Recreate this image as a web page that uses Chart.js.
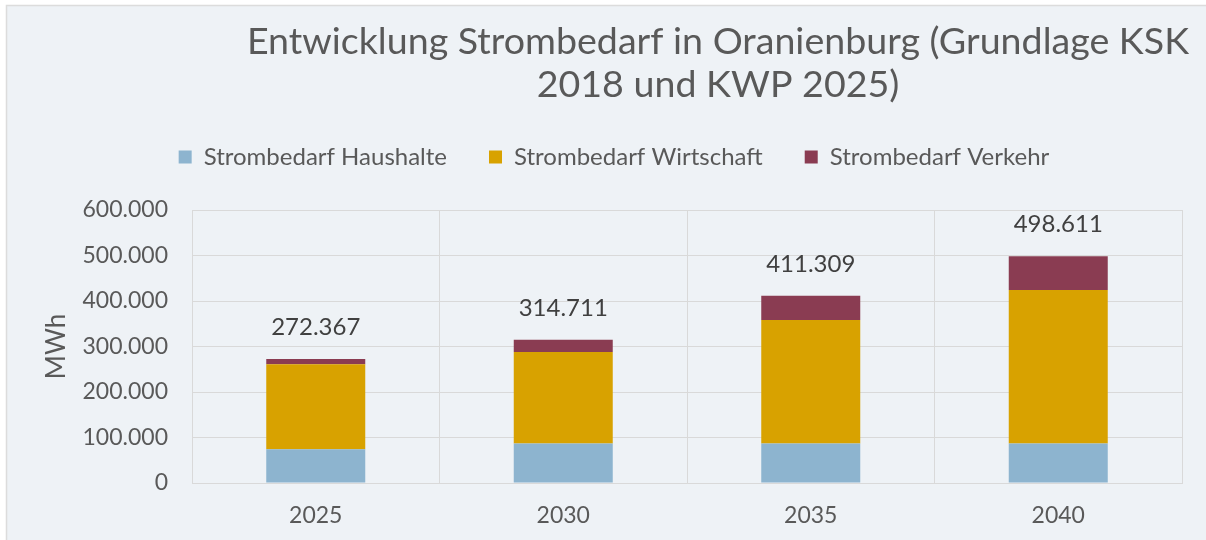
<!DOCTYPE html>
<html lang="de">
<head>
<meta charset="UTF-8">
<title>Entwicklung Strombedarf in Oranienburg</title>
<script src="https://cdn.jsdelivr.net/npm/chart.js"></script>
<style>
  body { margin: 0; background: #fff; }
  canvas { display: block; }
</style>
</head>
<body>
<canvas id="stromChart" width="1206" height="540"></canvas>
<script>
  // Werte (MWh)
  const years = ['2025', '2030', '2035', '2040'];
  const haushalte = [74000, 87000, 87000, 87000];
  const wirtschaft = [187000, 201000, 271000, 337000];
  const verkehr = [11367, 26711, 53309, 74611];
  const totals = [272367, 314711, 411309, 498611];
  const yTicks = [0, 100000, 200000, 300000, 400000, 500000, 600000];
  const seriesNames = ['Strombedarf Haushalte', 'Strombedarf Wirtschaft', 'Strombedarf Verkehr'];
  const titleLines = ['Entwicklung Strombedarf in Oranienburg (Grundlage KSK', '2018 und KWP 2025)'];

  const textColor = '#595959';
  const gridColor = '#d9d9d9';
  const fontName = 'Lato';

  // 272367 -> "272.367"
  function fmt(v) {
    return String(v).replace(/\B(?=(\d{3})+(?!\d))/g, '.');
  }

  // background + frame
  const framePlugin = {
    id: 'frame',
    beforeDraw(chart) {
      const ctx = chart.ctx;
      ctx.save();
      ctx.fillStyle = '#ffffff';
      ctx.fillRect(0, 0, chart.width, chart.height);
      ctx.fillStyle = '#eef2f6';
      ctx.fillRect(6, 5, chart.width, chart.height);
      ctx.strokeStyle = '#dcdcdc';
      ctx.lineWidth = 1.5;
      ctx.strokeRect(6.5, 5.5, chart.width + 10, chart.height + 10);
      ctx.restore();
    }
  };

  // title, centred like in the original
  const titlePlugin = {
    id: 'bigTitle',
    afterDraw(chart) {
      const ctx = chart.ctx;
      ctx.save();
      ctx.font = '37.6px ' + fontName;
      ctx.fillStyle = textColor;
      ctx.textAlign = 'center';
      ctx.textBaseline = 'alphabetic';
      ctx.fillText(titleLines[0], 718, 54);
      ctx.fillText(titleLines[1], 718, 97);
      ctx.restore();
    }
  };

  // sums above the stacks
  const totalsPlugin = {
    id: 'totals',
    afterDatasetsDraw(chart) {
      const ctx = chart.ctx;
      const yScale = chart.scales.y;
      const xScale = chart.scales.x;
      ctx.save();
      ctx.font = '24px ' + fontName;
      ctx.fillStyle = '#404040';
      ctx.textAlign = 'center';
      ctx.textBaseline = 'middle';
      totals.forEach((t, i) => {
        const x = xScale.getPixelForValue(i);
        const y = yScale.getPixelForValue(t);
        ctx.fillText(fmt(t), x, y - 32);
      });
      ctx.restore();
    }
  };

  function drawChart() {
    const ctx = document.getElementById('stromChart').getContext('2d');
    new Chart(ctx, {
      type: 'bar',
      data: {
        labels: years,
        datasets: [
          { label: seriesNames[0], data: haushalte, backgroundColor: '#8db4cf' },
          { label: seriesNames[1], data: wirtschaft, backgroundColor: '#d8a200' },
          { label: seriesNames[2], data: verkehr, backgroundColor: '#8a3c52' }
        ]
      },
      options: {
        responsive: false,
        animation: false,
        events: [],
        barPercentage: 0.4,
        categoryPercentage: 1,
        layout: { padding: { top: 103, left: 46, right: 24, bottom: 0 } },
        plugins: {
          legend: {
            position: 'top',
            labels: {
              boxWidth: 13,
              boxHeight: 13,
              padding: 42,
              color: textColor,
              font: { family: fontName, size: 24 }
            }
          },
          // empty subtitle only used as gap between legend and plot
          subtitle: {
            display: true,
            text: '',
            weight: 500,
            padding: 0,
            font: { size: 31, lineHeight: 1 }
          },
          tooltip: { enabled: false }
        },
        scales: {
          x: {
            stacked: true,
            afterFit(scale) { scale.height = 57; },
            grid: { color: gridColor, drawTicks: false },
            border: { color: gridColor },
            ticks: {
              padding: 19,
              color: textColor,
              font: { family: fontName, size: 23 }
            }
          },
          y: {
            stacked: true,
            min: 0,
            max: 600000,
            afterFit(scale) { scale.width = 146; },
            afterBuildTicks(scale) { scale.ticks = yTicks.map(v => ({ value: v })); },
            grid: { color: gridColor, drawTicks: false },
            border: { color: gridColor },
            ticks: {
              padding: 24,
              color: textColor,
              font: { family: fontName, size: 23 },
              callback: v => fmt(v)
            },
            title: {
              display: true,
              text: 'MWh',
              color: textColor,
              padding: 0,
              font: { family: fontName, size: 26, lineHeight: 0.85 }
            }
          }
        }
      },
      plugins: [framePlugin, titlePlugin, totalsPlugin]
    });
  }

  if (document.fonts && document.fonts.load) {
    document.fonts.load('23px ' + fontName).then(drawChart, drawChart);
  } else {
    drawChart();
  }
</script>
</body>
</html>
